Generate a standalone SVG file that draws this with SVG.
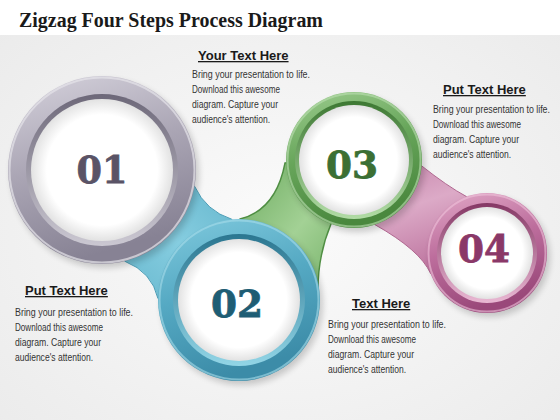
<svg xmlns="http://www.w3.org/2000/svg" width="560" height="420" viewBox="0 0 560 420">
<defs>
  <radialGradient id="bg" cx="50%" cy="55%" r="70%">
    <stop offset="0" stop-color="#fbfbfb"/>
    <stop offset="1" stop-color="#ebebeb"/>
  </radialGradient>
  <radialGradient id="disc" cx="50%" cy="50%" r="50%">
    <stop offset="0.78" stop-color="#ffffff"/>
    <stop offset="1" stop-color="#e2e2e2"/>
  </radialGradient>
  <filter id="blur" x="-20%" y="-20%" width="140%" height="140%">
    <feGaussianBlur stdDeviation="3"/>
  </filter>
  <linearGradient id="gGray" x1="0" y1="0" x2="0.3" y2="1">
    <stop offset="0" stop-color="#d6d3dd"/>
    <stop offset="0.5" stop-color="#aba6b5"/>
    <stop offset="1" stop-color="#878294"/>
  </linearGradient>
  <linearGradient id="gGrayIn" x1="0" y1="0" x2="0" y2="1">
    <stop offset="0" stop-color="#6d6879"/>
    <stop offset="1" stop-color="#cbc8d2"/>
  </linearGradient>
  <linearGradient id="gBlue" x1="0" y1="0" x2="0.3" y2="1">
    <stop offset="0" stop-color="#80cade"/>
    <stop offset="0.5" stop-color="#55a9c3"/>
    <stop offset="1" stop-color="#3c8ca8"/>
  </linearGradient>
  <linearGradient id="gBlueIn" x1="0" y1="0" x2="0" y2="1">
    <stop offset="0" stop-color="#2b7690"/>
    <stop offset="1" stop-color="#92d5e6"/>
  </linearGradient>
  <linearGradient id="gGreen" x1="0" y1="0" x2="0.3" y2="1">
    <stop offset="0" stop-color="#9dcd8f"/>
    <stop offset="0.5" stop-color="#67a55a"/>
    <stop offset="1" stop-color="#4a883e"/>
  </linearGradient>
  <linearGradient id="gGreenIn" x1="0" y1="0" x2="0" y2="1">
    <stop offset="0" stop-color="#3d7833"/>
    <stop offset="1" stop-color="#b2dca6"/>
  </linearGradient>
  <linearGradient id="gPink" x1="0" y1="0" x2="0.3" y2="1">
    <stop offset="0" stop-color="#e2a9c8"/>
    <stop offset="0.5" stop-color="#bd6e9d"/>
    <stop offset="1" stop-color="#9a487a"/>
  </linearGradient>
  <linearGradient id="gPinkIn" x1="0" y1="0" x2="0" y2="1">
    <stop offset="0" stop-color="#853865"/>
    <stop offset="1" stop-color="#e9b8d3"/>
  </linearGradient>
  <linearGradient id="cBlue" x1="1" y1="0" x2="0" y2="1">
    <stop offset="0" stop-color="#5fb2c9"/>
    <stop offset="0.5" stop-color="#86cde0"/>
    <stop offset="1" stop-color="#62b4cb"/>
  </linearGradient>
  <linearGradient id="cGreen" x1="0" y1="0" x2="1" y2="1">
    <stop offset="0" stop-color="#6aa95d"/>
    <stop offset="0.5" stop-color="#a3d195"/>
    <stop offset="1" stop-color="#6aa95d"/>
  </linearGradient>
  <linearGradient id="cPink" x1="0" y1="0" x2="0.4" y2="1">
    <stop offset="0" stop-color="#c27ea6"/>
    <stop offset="0.5" stop-color="#dcaac7"/>
    <stop offset="1" stop-color="#bf77a1"/>
  </linearGradient>
</defs>
<style>
  .title { font-family: "Liberation Serif", "Times New Roman", serif; font-weight: bold; font-size: 20px; fill: #1a1a1a; }
  .h { font-family: "Liberation Sans", Arial, sans-serif; font-weight: bold; font-size: 13px; fill: #1a1a1a; text-decoration: underline; }
  .b { font-family: "Liberation Sans", Arial, sans-serif; font-size: 11px; fill: #333333; }
  .num { font-family: "DejaVu Serif", "Liberation Serif", serif; font-weight: bold; font-size: 38px; text-anchor: middle; stroke-width: 0.8; }
  .shadow { fill: #000000; opacity: 0.18; }
</style>

<rect x="0" y="0" width="560" height="420" fill="url(#bg)"/>
<rect x="0" y="0" width="560" height="35" fill="#ffffff"/>
<text class="title" x="19" y="27" textLength="304" lengthAdjust="spacingAndGlyphs">Zigzag Four Steps Process Diagram</text>

<g id="connectors">
  <path id="conn-01-02" d="M194.6,186.3 Q206,211 231.9,219.3 L239,300 L158,298.6 Q152,272 124.7,261.2 L102,170 Z" fill="url(#cBlue)" stroke="#4b9db6" stroke-width="1"/>
  <path id="conn-02-03" d="M285,163 Q276,210 240,219 L239,300 L318,290 Q318,255 331,224 L354,160 Z" fill="url(#cGreen)" stroke="#4f8e43" stroke-width="1.4"/>
  <path id="conn-03-04" d="M421.7,165.9 Q447,186 466.5,196.6 L487,253 L430.6,273.5 Q420,250 375,224.7 L354,160 Z" fill="url(#cPink)" stroke="#b06890" stroke-width="1"/>
</g>

<g id="node-01">
  <circle class="shadow" cx="105" cy="174" r="94" filter="url(#blur)"/>
  <circle cx="102" cy="170" r="94" fill="url(#gGray)"/>
  <circle cx="102" cy="170" r="92.5" fill="none" stroke="#e6e4ea" stroke-width="2" opacity="0.7"/>
  <circle cx="102" cy="170" r="76" fill="url(#gGrayIn)"/>
  <circle cx="102" cy="170" r="71" fill="url(#disc)"/>
  <text class="num" x="102" y="183" fill="#5a5366" stroke="#5a5366" textLength="51" lengthAdjust="spacingAndGlyphs">01</text>
</g>

<g id="node-02">
  <circle class="shadow" cx="242" cy="304" r="81" filter="url(#blur)"/>
  <circle cx="239" cy="300" r="81" fill="url(#gBlue)"/>
  <circle cx="239" cy="300" r="79.5" fill="none" stroke="#a6dcea" stroke-width="2" opacity="0.6"/>
  <circle cx="239" cy="300" r="66" fill="url(#gBlueIn)"/>
  <circle cx="239" cy="300" r="61" fill="url(#disc)"/>
  <text class="num" x="237" y="317" fill="#1e5d74" stroke="#1e5d74" textLength="52" lengthAdjust="spacingAndGlyphs">02</text>
</g>

<g id="node-03">
  <circle class="shadow" cx="357" cy="164" r="68" filter="url(#blur)"/>
  <circle cx="354" cy="160" r="68" fill="url(#gGreen)"/>
  <circle cx="354" cy="160" r="66.5" fill="none" stroke="#bde0b2" stroke-width="2" opacity="0.6"/>
  <circle cx="354" cy="160" r="59" fill="url(#gGreenIn)"/>
  <circle cx="354" cy="160" r="55" fill="url(#disc)"/>
  <text class="num" x="352" y="178" fill="#3b6f34" stroke="#3b6f34" textLength="52" lengthAdjust="spacingAndGlyphs">03</text>
</g>

<g id="node-04">
  <circle class="shadow" cx="490" cy="257" r="60" filter="url(#blur)"/>
  <circle cx="487" cy="253" r="60" fill="url(#gPink)"/>
  <circle cx="487" cy="253" r="58.5" fill="none" stroke="#efc3db" stroke-width="2" opacity="0.6"/>
  <circle cx="487" cy="253" r="50" fill="url(#gPinkIn)"/>
  <circle cx="487" cy="253" r="46" fill="url(#disc)"/>
  <text class="num" x="484" y="262" fill="#8a3868" stroke="#8a3868" textLength="52" lengthAdjust="spacingAndGlyphs">04</text>
</g>

<g id="text-01">
  <text class="h" x="198" y="60">Your Text Here</text>
  <g transform="translate(192,0) scale(0.81,1)">
    <text class="b" x="0" y="78" textLength="145.7" lengthAdjust="spacingAndGlyphs">Bring your presentation to life.</text>
    <text class="b" x="0" y="93" textLength="108.6" lengthAdjust="spacingAndGlyphs">Download this awesome</text>
    <text class="b" x="0" y="108" textLength="106.2" lengthAdjust="spacingAndGlyphs">diagram. Capture your</text>
    <text class="b" x="0" y="123" textLength="96.3" lengthAdjust="spacingAndGlyphs">audience's attention.</text>
  </g>
</g>

<g id="text-02">
  <text class="h" x="443" y="94">Put Text Here</text>
  <g transform="translate(433,0) scale(0.81,1)">
    <text class="b" x="0" y="113" textLength="144.4" lengthAdjust="spacingAndGlyphs">Bring your presentation to life.</text>
    <text class="b" x="0" y="128" textLength="108.6" lengthAdjust="spacingAndGlyphs">Download this awesome</text>
    <text class="b" x="0" y="143" textLength="106.2" lengthAdjust="spacingAndGlyphs">diagram. Capture your</text>
    <text class="b" x="0" y="158" textLength="96.3" lengthAdjust="spacingAndGlyphs">audience's attention.</text>
  </g>
</g>

<g id="text-03">
  <text class="h" x="25" y="295">Put Text Here</text>
  <g transform="translate(15,0) scale(0.81,1)">
    <text class="b" x="0" y="316" textLength="145.7" lengthAdjust="spacingAndGlyphs">Bring your presentation to life.</text>
    <text class="b" x="0" y="331" textLength="108.6" lengthAdjust="spacingAndGlyphs">Download this awesome</text>
    <text class="b" x="0" y="346" textLength="106.2" lengthAdjust="spacingAndGlyphs">diagram. Capture your</text>
    <text class="b" x="0" y="361" textLength="96.3" lengthAdjust="spacingAndGlyphs">audience's attention.</text>
  </g>
</g>

<g id="text-04">
  <text class="h" x="352" y="308">Text Here</text>
  <g transform="translate(328,0) scale(0.81,1)">
    <text class="b" x="0" y="328" textLength="145.7" lengthAdjust="spacingAndGlyphs">Bring your presentation to life.</text>
    <text class="b" x="0" y="343" textLength="108.6" lengthAdjust="spacingAndGlyphs">Download this awesome</text>
    <text class="b" x="0" y="358" textLength="106.2" lengthAdjust="spacingAndGlyphs">diagram. Capture your</text>
    <text class="b" x="0" y="373" textLength="96.3" lengthAdjust="spacingAndGlyphs">audience's attention.</text>
  </g>
</g>
</svg>
